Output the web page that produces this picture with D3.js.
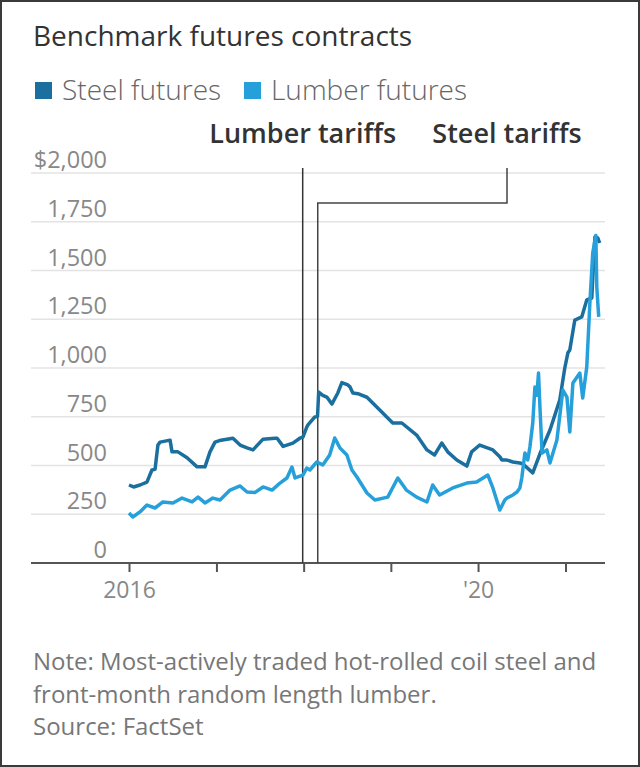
<!DOCTYPE html>
<html>
<head>
<meta charset="utf-8">
<script src="https://cdn.jsdelivr.net/npm/d3@7"></script>
<style>
  html, body { margin: 0; padding: 0; background: #fff; }
  svg { display: block; font-family: "Open Sans", "Noto Sans", sans-serif; }
</style>
</head>
<body>
<svg id="chart" width="640" height="767"></svg>
<script>
// ---------------- DATA ----------------
const seriesNames = ["Steel futures", "Lumber futures"];
const yTicks = [0, 250, 500, 750, 1000, 1250, 1500, 1750, 2000];
const yTickLabels = ["0", "250", "500", "750", "1,000", "1,250", "1,500", "1,750", "$2,000"];
const xTickYears = ["2016-01-01", "2017-01-01", "2018-01-01", "2019-01-01", "2020-01-01", "2021-01-01"];
const xTickLabels = ["2016", "", "", "", "'20", ""];
const annotations = [
  { label: "Lumber tariffs", date: "2017-12-28" },
  { label: "Steel tariffs", date: "2018-03-01" }
];
const noteLines = [
  "Note: Most-actively traded hot-rolled coil steel and",
  "front-month random length lumber.",
  "Source: FactSet"
];

const steel = [
  ["2016-01-01", 400], ["2016-01-20", 390], ["2016-02-16", 400], ["2016-03-16", 415],
  ["2016-04-06", 477], ["2016-04-19", 480], ["2016-05-01", 605], ["2016-05-10", 620],
  ["2016-06-21", 630], ["2016-06-29", 570], ["2016-07-24", 570], ["2016-08-31", 540],
  ["2016-10-12", 493], ["2016-11-14", 493], ["2016-12-05", 570], ["2016-12-26", 620],
  ["2017-01-20", 630], ["2017-03-11", 640], ["2017-04-10", 605], ["2017-05-09", 590],
  ["2017-06-03", 580], ["2017-07-15", 635], ["2017-09-03", 640], ["2017-09-12", 640],
  ["2017-10-07", 598], ["2017-11-17", 615], ["2017-12-16", 640], ["2017-12-29", 646],
  ["2018-01-14", 697], ["2018-01-19", 708], ["2018-02-17", 749], ["2018-02-28", 752],
  ["2018-03-05", 877], ["2018-03-22", 860], ["2018-04-08", 851], ["2018-04-29", 815],
  ["2018-05-24", 872], ["2018-06-10", 925], ["2018-07-05", 913], ["2018-07-14", 903],
  ["2018-07-26", 872], ["2018-08-16", 868], ["2018-09-23", 850], ["2018-11-03", 800],
  ["2019-01-09", 718], ["2019-02-16", 718], ["2019-04-19", 656], ["2019-06-01", 580],
  ["2019-07-03", 554], ["2019-08-02", 615], ["2019-08-27", 570], ["2019-10-04", 528],
  ["2019-11-15", 497], ["2019-12-05", 570], ["2020-01-08", 605], ["2020-03-03", 580],
  ["2020-04-01", 545], ["2020-04-10", 528], ["2020-05-01", 528], ["2020-05-26", 518],
  ["2020-06-24", 513], ["2020-07-07", 508], ["2020-08-17", 462], ["2020-09-16", 560],
  ["2020-10-28", 682], ["2020-12-08", 836], ["2020-12-29", 1000], ["2021-01-11", 1078],
  ["2021-01-19", 1092], ["2021-02-09", 1246], ["2021-03-10", 1262], ["2021-03-31", 1349],
  ["2021-04-21", 1359], ["2021-05-04", 1672], ["2021-05-16", 1667], ["2021-05-24", 1641]
];

const lumber = [
  ["2016-01-01", 256], ["2016-01-17", 236], ["2016-02-16", 262], ["2016-03-16", 297],
  ["2016-04-19", 282], ["2016-05-22", 313], ["2016-07-03", 308], ["2016-08-10", 333],
  ["2016-09-21", 313], ["2016-10-16", 338], ["2016-11-14", 308], ["2016-12-17", 333],
  ["2017-01-16", 323], ["2017-02-27", 374], ["2017-04-10", 395], ["2017-05-09", 364],
  ["2017-06-12", 362], ["2017-07-15", 390], ["2017-08-22", 374], ["2017-09-24", 410],
  ["2017-10-23", 436], ["2017-11-13", 492], ["2017-11-26", 436], ["2017-12-29", 451],
  ["2018-01-14", 487], ["2018-01-27", 477], ["2018-02-25", 518], ["2018-03-22", 503],
  ["2018-04-20", 554], ["2018-05-11", 641], ["2018-05-16", 630], ["2018-06-02", 590],
  ["2018-07-01", 554], ["2018-07-22", 477], ["2018-08-12", 441], ["2018-09-23", 359],
  ["2018-10-26", 323], ["2018-12-19", 338], ["2019-01-30", 436], ["2019-03-07", 374],
  ["2019-04-19", 338], ["2019-06-01", 313], ["2019-06-25", 400], ["2019-07-24", 349],
  ["2019-09-17", 385], ["2019-11-15", 410], ["2019-12-26", 415], ["2020-02-11", 451],
  ["2020-03-03", 385], ["2020-04-01", 272], ["2020-04-22", 323], ["2020-05-01", 333],
  ["2020-05-26", 349], ["2020-06-12", 364], ["2020-06-24", 385], ["2020-07-02", 436],
  ["2020-07-15", 564], ["2020-07-27", 528], ["2020-08-05", 595], ["2020-08-17", 718],
  ["2020-08-26", 903], ["2020-09-03", 860], ["2020-09-10", 974], ["2020-09-16", 800],
  ["2020-09-25", 564], ["2020-10-15", 580], ["2020-10-28", 513], ["2020-11-26", 631],
  ["2020-12-21", 887], ["2021-01-07", 851], ["2021-01-19", 672], ["2021-02-01", 923],
  ["2021-03-02", 974], ["2021-03-14", 846], ["2021-03-31", 1005], ["2021-04-13", 1333],
  ["2021-04-25", 1590], ["2021-05-08", 1680], ["2021-05-12", 1415], ["2021-05-20", 1262]
];

// ---------------- CHART ----------------
const colors = { steel: "#1a6f9e", lumber: "#26a0da" };
const parse = d3.timeParse("%Y-%m-%d");
const svg = d3.select("#chart");

svg.append("rect").attr("x", 1).attr("y", 1).attr("width", 638).attr("height", 765)
  .attr("fill", "#fff").attr("stroke", "#3a3a3a").attr("stroke-width", 2);

const x = d3.scaleTime()
  .domain([parse("2016-01-01"), parse("2021-01-01")])
  .range([129, 565.5]);
const y = d3.scaleLinear().domain([0, 2000]).range([563, 173]);
const gridX0 = 31, gridX1 = 605;

// Title
svg.append("text").attr("x", 33).attr("y", 46)
  .attr("font-size", 28).attr("fill", "#333").text("Benchmark futures contracts");

// Legend
const legend = [
  { name: seriesNames[0], color: colors.steel, x: 35 },
  { name: seriesNames[1], color: colors.lumber, x: 244 }
];
legend.forEach(l => {
  svg.append("rect").attr("x", l.x).attr("y", 82).attr("width", 17).attr("height", 17).attr("fill", l.color);
  svg.append("text").attr("x", l.x + 27).attr("y", 100)
    .attr("font-size", 28).attr("font-weight", 300).attr("fill", "#666").text(l.name);
});

// Gridlines
svg.append("g").selectAll("line").data(yTicks.filter(d => d > 0)).join("line")
  .attr("x1", gridX0).attr("x2", gridX1)
  .attr("y1", d => y(d)).attr("y2", d => y(d))
  .attr("stroke", "#e3e3e3").attr("stroke-width", 1.5);

// Y labels
svg.append("g").selectAll("text").data(yTicks).join("text")
  .attr("x", 107).attr("y", d => y(d) - 5)
  .attr("text-anchor", "end").attr("font-size", 23.5).attr("fill", "#888")
  .text((d, i) => yTickLabels[i]);

// X axis
const xAxis = d3.axisBottom(x)
  .tickValues(xTickYears.map(parse))
  .tickSize(9)
  .tickFormat((d, i) => xTickLabels[i]);
const gx = svg.append("g").attr("transform", `translate(0,${y(0)})`).call(xAxis);
gx.select(".domain").remove();
gx.selectAll(".tick line").attr("stroke", "#555").attr("stroke-width", 2);
gx.selectAll(".tick text").attr("font-size", 23).attr("fill", "#888")
  .attr("font-family", "'Open Sans', sans-serif").attr("dy", 0).attr("y", 35);
svg.append("line").attr("x1", gridX0).attr("x2", gridX1)
  .attr("y1", y(0)).attr("y2", y(0)).attr("stroke", "#555").attr("stroke-width", 2);

// Annotations
const lumX = x(parse(annotations[0].date));
const stX = x(parse(annotations[1].date));
const labelSteelX = 507;
svg.append("line").attr("x1", lumX).attr("x2", lumX).attr("y1", 168).attr("y2", y(0))
  .attr("stroke", "#333").attr("stroke-width", 1.5);
svg.append("path")
  .attr("d", `M${stX},${y(0)}V203H${labelSteelX}V168`)
  .attr("fill", "none").attr("stroke", "#444").attr("stroke-width", 1.5);
svg.append("text").attr("x", lumX).attr("y", 143).attr("text-anchor", "middle")
  .attr("font-size", 27).attr("font-weight", 600).attr("fill", "#333").text(annotations[0].label);
svg.append("text").attr("x", labelSteelX).attr("y", 143).attr("text-anchor", "middle")
  .attr("font-size", 27).attr("font-weight", 600).attr("fill", "#333").text(annotations[1].label);

// Lines
const line = d3.line().x(d => x(parse(d[0]))).y(d => y(d[1]));
svg.append("path").datum(steel).attr("d", line)
  .attr("fill", "none").attr("stroke", colors.steel).attr("stroke-width", 3.5).attr("stroke-linejoin", "round");
svg.append("path").datum(lumber).attr("d", line)
  .attr("fill", "none").attr("stroke", colors.lumber).attr("stroke-width", 3.5).attr("stroke-linejoin", "round");

// Notes
svg.append("g").selectAll("text").data(noteLines).join("text")
  .attr("x", 33).attr("y", (d, i) => 670 + i * 32.5)
  .attr("font-size", 24).attr("fill", "#777").text(d => d);
</script>
</body>
</html>
